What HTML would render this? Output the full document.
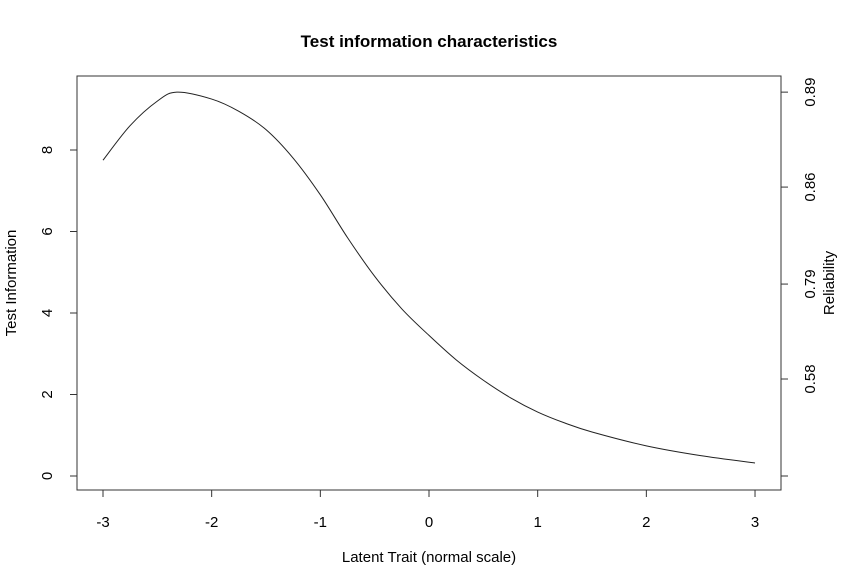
<!DOCTYPE html>
<html><head><meta charset="utf-8"><style>
body{margin:0;background:#fff;}
svg{display:block;font-family:"Liberation Sans",sans-serif;}
</style></head><body>
<svg id="chart" width="858" height="587">
<text x="429" y="47" text-anchor="middle" font-size="17" font-weight="bold">Test information characteristics</text>
<rect x="77" y="76" width="704" height="414" fill="none" stroke="#333" stroke-width="1"/>
<g id="xaxis"></g>
<g id="yaxis"></g>
<g id="raxis"></g>
<text x="429" y="562" text-anchor="middle" font-size="15">Latent Trait (normal scale)</text>
<text transform="translate(16,283) rotate(-90)" text-anchor="middle" font-size="15">Test Information</text>
<text transform="translate(834,283) rotate(-90)" text-anchor="middle" font-size="15">Reliability</text>
<path id="curve" fill="none" stroke="#222" stroke-width="1"/>
</svg>
<script>
const thetas=[-3,-2.75,-2.5,-2.32,-2,-1.75,-1.5,-1.25,-1,-0.75,-0.5,-0.25,0,0.25,0.5,0.75,1,1.25,1.5,2,2.5,3];
const info=[7.75,8.6,9.2,9.42,9.25,8.95,8.5,7.8,6.9,5.85,4.9,4.1,3.45,2.85,2.35,1.92,1.57,1.3,1.08,0.74,0.5,0.32];
const xTicks=[-3,-2,-1,0,1,2,3];
const yTicks=[0,2,4,6,8];
const relTickInfo=[9.42,7.09,4.71,2.38,0];
const relLabels=["0.89","0.86","0.79","0.58",""];
const X=v=>103+(v+3)*108.67;
const Y=v=>476-v*40.75;
const NS="http://www.w3.org/2000/svg";
function mk(parent,tag,attrs,txt){const e=document.createElementNS(NS,tag);for(const k in attrs)e.setAttribute(k,attrs[k]);if(txt!==undefined)e.textContent=txt;document.getElementById(parent).appendChild(e);return e;}
mk('xaxis','line',{x1:X(-3),x2:X(3),y1:490,y2:490,stroke:'#333'});
xTicks.forEach(t=>{
 const l=mk('xaxis','line',{x1:X(t),x2:X(t),y1:490,y2:497,stroke:'#333'});
 
 
 const s=mk('xaxis','text',{x:X(t),y:527,'text-anchor':'middle','font-size':15},String(t));
 
 
});
mk('yaxis','line',{x1:77,x2:77,y1:Y(0),y2:Y(8),stroke:'#333'});
yTicks.forEach(t=>{
 const l=mk('yaxis','line',{x1:70,x2:77,y1:Y(t),y2:Y(t),stroke:'#333'});
 
 
 const s=mk('yaxis','text',{transform:`translate(52,${Y(t)}) rotate(-90)`,'text-anchor':'middle','font-size':15},String(t));
 
 
});
mk('raxis','line',{x1:781,x2:781,y1:Y(0),y2:Y(relTickInfo[0]),stroke:'#333'});
relTickInfo.forEach((t,i)=>{
 const l=mk('raxis','line',{x1:781,x2:788,y1:Y(t),y2:Y(t),stroke:'#333'});
 
 
 if(!relLabels[i])return;
 const s=mk('raxis','text',{transform:`translate(815,${Y(t)}) rotate(-90)`,'text-anchor':'middle','font-size':15},relLabels[i]);
 
 
});
const pts=thetas.map((t,i)=>[X(t),Y(info[i])]);
let d=`M${pts[0][0]},${pts[0][1]}`;
for(let i=0;i<pts.length-1;i++){
 const p0=pts[Math.max(0,i-1)],p1=pts[i],p2=pts[i+1],p3=pts[Math.min(pts.length-1,i+2)];
 const c1=[p1[0]+(p2[0]-p0[0])/6,p1[1]+(p2[1]-p0[1])/6];
 const c2=[p2[0]-(p3[0]-p1[0])/6,p2[1]-(p3[1]-p1[1])/6];
 d+=` C${c1[0]},${c1[1]} ${c2[0]},${c2[1]} ${p2[0]},${p2[1]}`;
}
document.getElementById('curve').setAttribute('d',d);
</script>
</body></html>
